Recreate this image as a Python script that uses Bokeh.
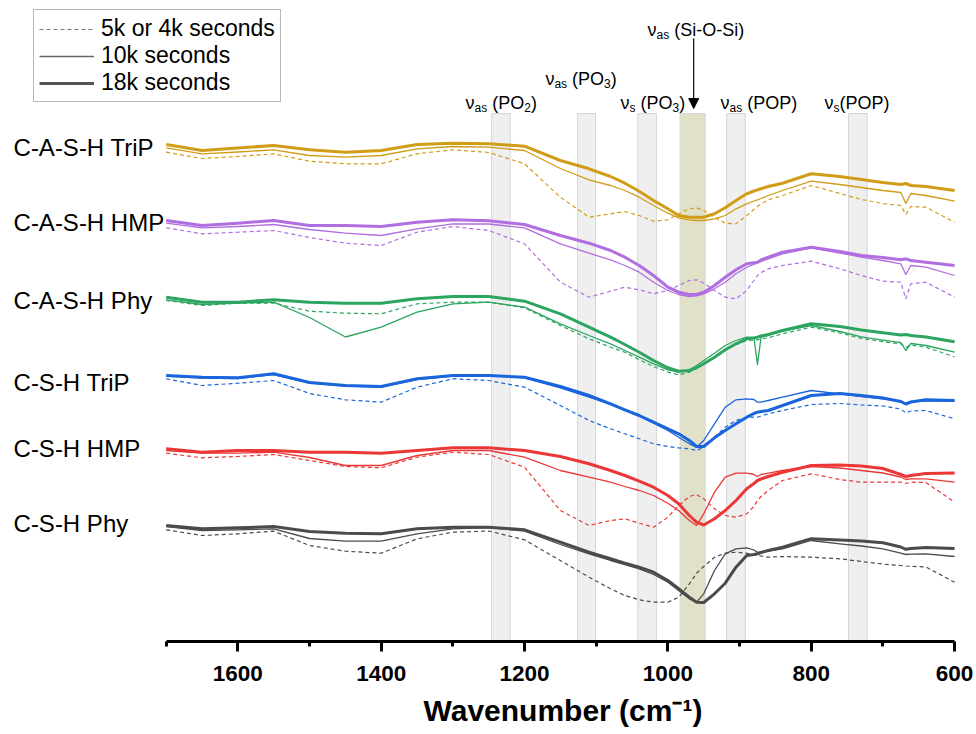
from bokeh.plotting import figure
from bokeh.models import (Range1d, FixedTicker, Legend, LegendItem, Arrow,
                          NormalHead, ColumnDataSource, Title)
from bokeh.core.properties import value
from bokeh.embed import file_html
from bokeh.resources import INLINE

# ---------------- data (arbitrary offset units) -------------
WN = [1700, 1650, 1600, 1550, 1500, 1450, 1400, 1350, 1300, 1250,
      1200, 1150, 1110, 1080, 1060, 1040, 1020, 1000, 985, 970,
      960, 950, 935, 920, 905, 890, 880, 875, 870, 860,
      840, 800, 760, 730, 700, 675, 668, 661, 640, 600]

gold_18k = [497, 491, 493.5, 496, 491.7, 489.3, 491, 497, 498.3, 497.7,
            495.3, 481, 472.7, 465, 458.3, 450.3, 441, 432.7, 426, 424.3,
            424.3, 424.3, 427.7, 433.7, 441, 447.7, 450.5, 451.7, 452.8, 455,
            458.3, 467.7, 465, 462, 459, 457, 458, 456, 455, 451]
gold_10k = [493.7, 487.7, 489.5, 491.7, 486, 484.3, 486, 492.7, 495, 494.3,
            491, 473, 461.7, 456, 451, 444.3, 436, 428.3, 423.7, 421.7,
            421, 421, 422.7, 426, 432.7, 437.7, 440.5, 441.7, 443, 446,
            451, 460.3, 457, 454, 451, 449, 438, 448, 446, 440.3]
gold_5k = [489.3, 483, 485, 487.7, 480.3, 477.7, 477.7, 487.7, 491.7, 489,
           477.7, 444.3, 424.3, 427.7, 430, 426, 420.3, 421.7, 427.7, 432.7,
           433.7, 431, 424.3, 418.3, 417.7, 426, 432, 435, 437.5, 441.7,
           446, 456, 448, 442, 438, 436, 427, 435, 434.3, 419.3]

purple_18k = [421, 416, 418.3, 421, 416, 416, 415, 419.3, 421.7, 420.7,
              417, 406, 398.3, 391, 384.3, 376, 366, 354.3, 349.3, 347,
              347, 349.3, 356, 364.3, 371.7, 377.7, 378.8, 379.3, 381.5, 384.3,
              389.3, 394.3, 390, 386, 384, 381.7, 382.7, 381, 379.3, 376]
purple_10k = [418.3, 413.7, 415, 417, 412, 408.3, 406, 412.7, 417.7, 417.5,
              413.7, 397.7, 388.3, 381.7, 376, 369.3, 359.3, 351, 347, 345,
              345.7, 347.7, 352.7, 359.3, 367.7, 374.3, 377, 378.3, 380, 382.7,
              387.7, 393.7, 388.5, 384.3, 381, 377.7, 367, 376, 374.3, 366]
purple_5k = [413.7, 407.7, 409.3, 411, 404, 398.3, 396, 409.3, 415, 411,
             397.7, 359.3, 344.3, 350.3, 354.3, 351.7, 347.7, 351, 356, 361,
             361.7, 358.3, 351, 344.3, 342.7, 351, 361, 366, 369, 372.7,
             376, 380.3, 372.7, 366, 360.3, 359.3, 342.7, 357.7, 359.3, 344.3]

green_18k = [344.3, 339.3, 339.3, 341.7, 339.3, 338.3, 338.3, 342.7, 345, 345,
             340.3, 327.7, 314.3, 304.3, 297, 289.3, 281, 273.7, 270.3, 271,
             273.7, 277.7, 284.3, 291.7, 297.7, 302.7, 303.5, 304.3, 305.5, 307,
             311, 317.7, 315, 311.5, 308.8, 306.5, 307, 306, 304.5, 299.8]
green_10k = [341.7, 337, 338.3, 339.3, 324, 304.5, 314.3, 329.3, 337.7, 339.3,
             334.3, 317.7, 306, 297.7, 291, 284.3, 277.7, 271.7, 269.3, 271.7,
             276, 281, 288.3, 296, 301, 304.3, 304, 277, 304.5, 306,
             310.3, 316, 310, 304.7, 301.4, 298.8, 291, 298, 296, 289.3]
green_5k = [341, 336, 338.3, 338.3, 330.3, 328.3, 327.7, 337.7, 339.3, 339.3,
            333.7, 316, 302.7, 294.3, 289.3, 281.7, 275, 269.3, 266.7, 269.3,
            273.7, 277.7, 283.7, 291, 297, 301, 301.3, 301.7, 302.5, 303.7,
            307.7, 314.3, 308.5, 303.2, 299.8, 297.7, 294.3, 296.5, 294.3, 284.7]

blue_18k = [266, 264.3, 263.7, 267.7, 259, 256, 255, 262.7, 266, 266,
            264.3, 255, 246, 237.7, 231.7, 226, 219.3, 212.7, 207.7, 201,
            195, 195, 203.7, 211, 217.7, 224.3, 228, 229.3, 230, 231,
            236, 246, 248, 246, 243.5, 240, 237.5, 239.5, 241.7, 241]
blue_10k = [265.5, 263.5, 263, 267, 258.5, 255.5, 254.5, 262, 265.5, 266,
            263.7, 253.7, 244.3, 237, 231, 225.3, 218.3, 211, 204.3, 197.7,
            194.3, 201, 217.7, 234.3, 241.7, 242.7, 242, 239.3, 239.5, 241,
            244.3, 251, 247.7, 245, 242.7, 240.5, 238, 240, 240.3, 240.3]
blue_5k = [262.7, 256, 258.3, 261, 248, 241.7, 239.3, 254.3, 262.7, 261,
           254.3, 236, 221, 212.7, 207.7, 202.7, 197.7, 195, 193.7, 192.7,
           191, 194.3, 204.3, 214.3, 221, 224.3, 224.3, 224.3, 225.5, 227.7,
           231, 237, 238, 236.5, 235.5, 232.5, 228.5, 230.5, 231, 222.7]

red_18k = [192.7, 189.3, 191, 191, 189.3, 189.3, 188.3, 191, 193.7, 193.7,
           191, 185, 177.7, 171, 166, 160.3, 154.3, 146, 137.7, 126,
           119.3, 116.5, 122.7, 131, 141, 152.7, 158, 161, 162.5, 165,
           169.3, 176, 176.5, 175.5, 173, 167, 165, 166, 168, 168.5]
red_10k = [191, 188.3, 188.3, 189.3, 184, 176, 176, 186, 191, 191,
           184.3, 171, 164.3, 159.3, 155, 151, 146, 138.3, 131, 121,
           116, 127.7, 149.3, 164.3, 168.3, 168.3, 167, 165, 167, 168.3,
           171, 175, 173.5, 171, 168.5, 164.5, 162, 162.7, 162.7, 159.3]
red_5k = [188.3, 183.7, 185, 187, 181, 175, 173.7, 184.3, 189.3, 187,
          174.3, 131, 116, 121, 122.7, 118.3, 114.3, 124.3, 136, 145,
          147, 142.7, 132.7, 126, 124.3, 127.7, 135, 141, 145, 151,
          161, 167.7, 162, 159.3, 159.3, 159.5, 158, 159.3, 159, 139.3]

black_18k = [116, 112.7, 113.7, 115, 110, 108.3, 107.7, 112.7, 114.3, 114.3,
             111.7, 99.3, 89.3, 82.7, 78.3, 74.3, 69.3, 61, 52.7, 44.3,
             39.3, 39, 47.7, 58.3, 74.3, 86, 87, 87.7, 89, 91,
             94.3, 102.7, 101.5, 100.5, 98.7, 94.5, 92.2, 93, 94, 93]
black_10k = [115, 111, 111.7, 112.7, 103, 100.3, 100.3, 107.7, 112.7, 114,
             110.3, 97, 87.7, 81, 77, 72.7, 67, 59.3, 51, 42.7,
             39.3, 47.7, 71, 87.7, 92.7, 93.7, 91.5, 89.3, 89.5, 90.3,
             92.7, 101, 97.7, 95.5, 92.7, 88.3, 87, 87.3, 87.7, 85]
black_5k = [111.7, 106, 107.7, 110.3, 96, 90.3, 88.3, 102.7, 109.3, 110.5,
            101.7, 81, 64.3, 52.7, 46, 41.7, 39.3, 39.3, 44.3, 57.7,
            68.3, 75, 84.3, 88.3, 89.3, 88.3, 86.7, 86, 85.5, 84.3,
            85, 84.3, 82.7, 80, 77.4, 76, 75.5, 75.2, 74.5, 59.3]

SAMPLES = ["C-A-S-H TriP", "C-A-S-H HMP", "C-A-S-H Phy",
           "C-S-H TriP", "C-S-H HMP", "C-S-H Phy"]
COLORS = ["#d19c16", "#b06ee0", "#2ba55f", "#1a64dc", "#ec3737", "#4b4b4b"]
SPECTRA_5K = [gold_5k, purple_5k, green_5k, blue_5k, red_5k, black_5k]
SPECTRA_10K = [gold_10k, purple_10k, green_10k, blue_10k, red_10k, black_10k]
SPECTRA_18K = [gold_18k, purple_18k, green_18k, blue_18k, red_18k, black_18k]
SAMPLE_LEVEL = [494, 419, 341, 259, 193, 118]

SERIES = ["5k or 4k seconds", "10k seconds", "18k seconds"]

BAND_HIGH = [1246, 1126, 1042, 983, 918, 748]
BAND_LOW = [1220, 1101, 1016, 948, 892, 722]
BAND_FILL = ["#efefef", "#efefef", "#efefef", "#e1e1c9", "#efefef", "#efefef"]
BAND_TOP = 528

TICKS = [1600, 1400, 1200, 1000, 800, 600]
MINOR_TICKS = [1700, 1500, 1300, 1100, 900, 700]
X_TITLE = "Wavenumber (cm\u207b\u00b9)"

FONT = "Liberation Sans"

# ---------------- figure ----------------
p = figure(width=976, height=734,
           x_range=Range1d(1931.2, 569.4), y_range=Range1d(0, 641),
           output_backend="svg", toolbar_location=None,
           y_axis_location=None,
           min_border_left=0, min_border_right=0,
           min_border_top=0, min_border_bottom=93)
p.outline_line_color = None
p.xgrid.visible = False
p.ygrid.visible = False
p.background_fill_color = "white"
p.border_fill_color = "white"

ax = p.xaxis[0]
ax.ticker = FixedTicker(ticks=TICKS, minor_ticks=MINOR_TICKS)
ax.bounds = (600, 1700)
ax.axis_line_width = 3
ax.axis_line_color = "black"
ax.major_tick_line_width = 3
ax.minor_tick_line_width = 3
ax.major_tick_line_color = "black"
ax.minor_tick_line_color = "black"
ax.major_tick_out = 10
ax.major_tick_in = 0
ax.minor_tick_out = 5
ax.minor_tick_in = 0
ax.major_label_text_font = FONT
ax.major_label_text_font_style = "bold"
ax.major_label_text_font_size = "22.5px"
ax.major_label_text_color = "black"
ax.major_label_text_line_height = 0.8
ax.major_label_standoff = 14

# axis title, left-aligned so that it is centred under the axis line
p.add_layout(Title(text=X_TITLE, align="left", offset=423,
                   text_font=FONT, text_font_style="bold",
                   text_font_size="30px", text_color="black",
                   text_line_height=0.8, standoff=16), "below")

# bands
p.quad(left=BAND_HIGH, right=BAND_LOW, bottom=0, top=BAND_TOP,
       fill_color=BAND_FILL, line_color="#d6d6d6", line_width=1)

# spectra
for i in range(len(SAMPLES)):
    p.line(WN, SPECTRA_5K[i], line_color=COLORS[i], line_width=1.2,
           line_dash="4 3")
    p.line(WN, SPECTRA_10K[i], line_color=COLORS[i], line_width=1.3,
           line_join="round")
    p.line(WN, SPECTRA_18K[i], line_color=COLORS[i], line_width=3,
           line_join="round")

# sample names
p.text(x=[1913] * len(SAMPLES), y=SAMPLE_LEVEL, text=SAMPLES,
       text_font=value(FONT), text_font_size="24px", text_color="black",
       text_baseline="middle", text_align="left")

# band assignment labels (nu with subscripts)
BAND_LABELS = [
    (1282.4, 539, [("ν", 0, 0, 18), ("as", 9, 5, 12), ("(PO", 26.7, 0, 18),
                   ("2", 58.7, 5, 12), (")", 65.4, 0, 18)]),
    (1170.9, 563, [("ν", 0, 0, 18), ("as", 9, 5, 12), ("(PO", 26.7, 0, 18),
                   ("3", 58.7, 5, 12), (")", 65.4, 0, 18)]),
    (1066.1, 539, [("ν", 0, 0, 18), ("s", 9, 5, 12), ("(PO", 20, 0, 18),
                   ("3", 52, 5, 12), (")", 58.7, 0, 18)]),
    (926.6, 539, [("ν", 0, 0, 18), ("as", 9, 5, 12), ("(POP)", 26.7, 0, 18)]),
    (781.5, 539, [("ν", 0, 0, 18), ("s", 9, 5, 12), ("(POP)", 15, 0, 18)]),
    (1028.4, 612, [("ν", 0, 0, 18), ("as", 9, 5, 12), ("(Si-O-Si)", 26.7, 0, 18)]),
]
cols = dict(x=[], y=[], text=[], dx=[], dy=[], size=[])
for bx, by, pieces in BAND_LABELS:
    for t, dx, dy, sz in pieces:
        cols["x"].append(bx)
        cols["y"].append(by)
        cols["text"].append(t)
        cols["dx"].append(dx)
        cols["dy"].append(dy)
        cols["size"].append(f"{sz}px")
p.text(x="x", y="y", text="text", x_offset="dx", y_offset="dy",
       text_font_size="size", source=ColumnDataSource(cols),
       text_font=value(FONT), text_color="black",
       text_baseline="alphabetic", text_align="left")

p.add_layout(Arrow(end=NormalHead(size=10, fill_color="black",
                                  line_color="black"),
                   x_start=964, y_start=603, x_end=964, y_end=533,
                   line_color="black", line_width=1.2))

# legend (sample renderers lie outside the visible x range)
r1 = p.line([0, 1], [0, 0], line_color="#777777", line_width=1.2, line_dash="4 3")
r2 = p.line([0, 1], [0, 0], line_color="#666666", line_width=1.3)
r3 = p.line([0, 1], [0, 0], line_color="#555555", line_width=3)
legend = Legend(items=[LegendItem(label=SERIES[0], renderers=[r1]),
                       LegendItem(label=SERIES[1], renderers=[r2]),
                       LegendItem(label=SERIES[2], renderers=[r3])],
                location=(33, 539), orientation="vertical",
                border_line_color="#707070", border_line_width=1,
                background_fill_color="white", background_fill_alpha=1,
                label_text_font=FONT, label_text_font_size="23px",
                label_text_color="black",
                glyph_width=55, glyph_height=20, label_height=20,
                label_standoff=7, padding=5, spacing=0, margin=0)
p.add_layout(legend, "center")

open("out.html", "w").write(file_html(p, INLINE))
